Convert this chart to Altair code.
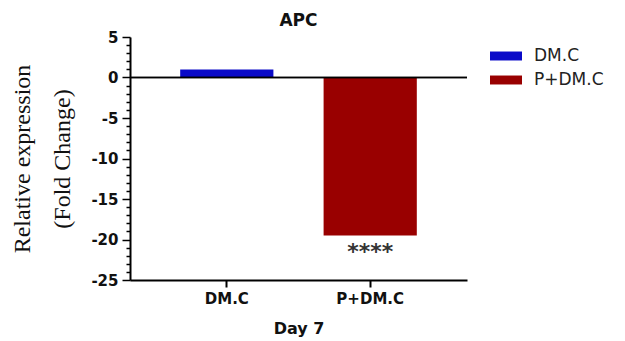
import altair as alt
import pandas as pd

groups = ["DM.C", "P+DM.C"]
values = [1.0, -19.5]
significance = ["", "****"]
colors = ["#0a0ac8", "#990000"]
y_ticks = list(range(-25, 6))

df = pd.DataFrame({"group": groups, "value": values, "sig": significance, "zero": [0, 0]})

x_enc = alt.X(
    "group:N",
    sort=groups,
    scale=alt.Scale(paddingInner=0.35, paddingOuter=0.35),
    axis=alt.Axis(
        title="Day 7",
        labelAngle=0,
        labelFont="DejaVu Sans",
        labelFontWeight="bold",
        labelFontSize=15,
        labelColor="#111111",
        labelPadding=4,
        titleFont="DejaVu Sans",
        titleFontWeight="bold",
        titleFontSize=16,
        titleColor="#111111",
        titlePadding=14,
        domainColor="black",
        domainWidth=2,
        tickColor="black",
        tickWidth=2,
        tickSize=7,
    ),
)

y_axis = alt.Axis(
    title=["Relative expression", "(Fold Change)"],
    values=y_ticks,
    labelExpr="datum.value % 5 == 0 ? replace(format(datum.value, 'd'), '\u2212', '-') : ''",
    labelOverlap=False,
    labelFont="DejaVu Sans",
    labelFontWeight="bold",
    labelFontSize=15,
    labelColor="#111111",
    labelPadding=4,
    titleFont="Liberation Serif",
    titleFontWeight="normal",
    titleFontSize=24,
    titleLineHeight=40,
    titleColor="#111111",
    titlePadding=16,
    domainColor="black",
    domainWidth=2,
    tickColor="black",
    tickWidth=1.5,
    tickSize={"condition": {"test": "datum.value % 5 == 0", "value": 8}, "value": 4},
    grid=False,
)
y_scale = alt.Scale(domain=[-25, 5], nice=False, zero=False)

bars = alt.Chart(df).mark_bar().encode(
    x=x_enc,
    y=alt.Y("value:Q", scale=y_scale, axis=y_axis),
    color=alt.Color(
        "group:N",
        scale=alt.Scale(domain=groups, range=colors),
        legend=alt.Legend(
            title=None,
            orient="none",
            legendX=360,
            legendY=3,
            symbolType="M-1,-0.28H1V0.28H-1Z",
            symbolSize=1024,
            symbolStrokeWidth=0,
            labelFont="DejaVu Sans",
            labelFontSize=17,
            labelColor="#222222",
            labelOffset=12,
            rowPadding=0,
            padding=0,
        ),
    ),
)

zero_line = alt.Chart(df).mark_rule(color="black", strokeWidth=1.5).encode(
    y=alt.Y("zero:Q", scale=y_scale, axis=y_axis)
)

stars = alt.Chart(df).mark_text(
    dy=17, baseline="middle", font="DejaVu Sans", fontSize=22, fontWeight="bold", color="#333333"
).encode(
    x=x_enc,
    y=alt.Y("value:Q", scale=y_scale, axis=y_axis),
    text="sig:N",
)

chart = alt.layer(bars, zero_line, stars).properties(
    width=337,
    height=243,
    padding={"left": 122, "top": 29, "right": 150, "bottom": 60},
    autosize=alt.AutoSizeParams(type="none"),
    title=alt.TitleParams(
        "APC",
        font="DejaVu Sans",
        fontWeight="bold",
        fontSize=17,
        color="#111111",
        anchor="middle",
        frame="group",
        offset=0,
    ),
).configure_view(strokeWidth=0)

chart.save("out.html", embed_options={"renderer": "svg", "actions": False})
